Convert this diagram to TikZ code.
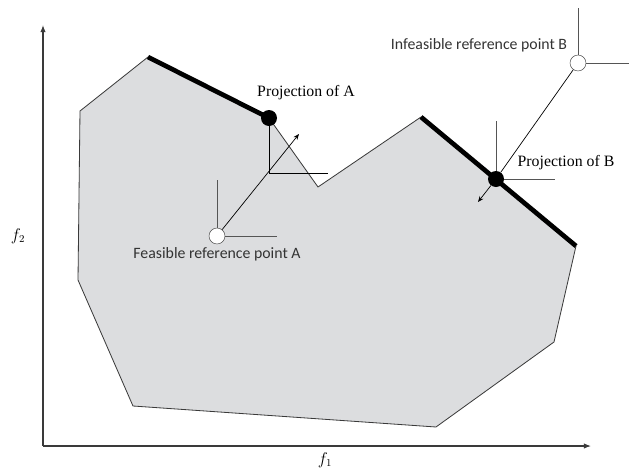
\documentclass[tikz,border=0pt]{standalone}
\usepackage{fontspec}
\setmainfont{Liberation Serif}
\newfontfamily\labelfont{Carlito}
\usetikzlibrary{arrows.meta}
\definecolor{region-gray}{HTML}{DCDDDF}
\definecolor{line-gray}{HTML}{3A3A3A}
\definecolor{cone-gray}{HTML}{555555}

\begin{document}
\begin{tikzpicture}[x=0.03cm, y=-0.03cm,
      every node/.style={font=\fontsize{13.5}{16}\selectfont}]
    \useasboundingbox (0,0) rectangle (630,469);
    % axes
    \coordinate (O) at (43,446);
    \coordinate (Ytip) at (43,25);
    \coordinate (Xtip) at (591,446);
    \draw[line-gray, line width=0.9pt, -{Latex[length=6pt, width=4.5pt]}] (O) -- (Ytip);
    \draw[line-gray, line width=0.9pt, -{Latex[length=6pt, width=4.5pt]}] (O) -- (Xtip);
    \node (f1) at (325,460) {$f_1$};
    \node (f2) at (18,236) {$f_2$};
    % feasible region
    \coordinate (v1) at (148,57);
    \coordinate (v2) at (269,118);
    \coordinate (v3) at (318,187);
    \coordinate (v4) at (421,117);
    \coordinate (v5) at (576,246);
    \coordinate (v6) at (554,342);
    \coordinate (v7) at (436,427);
    \coordinate (v8) at (133,406);
    \coordinate (v9) at (78,280);
    \coordinate (v10) at (80,111);
    \draw[line-gray, line width=0.7pt, fill=region-gray, line join=round]
          (v1) -- (v2) -- (v3) -- (v4) -- (v5) -- (v6) -- (v7) -- (v8)
          -- (v9) -- (v10) -- cycle;
    \draw[black, line width=4pt] (v1) -- (v2);
    \draw[black, line width=4pt] (v4) -- (v5);
    % reference point A and its projection
    \node[draw=line-gray, fill=white, circle, inner sep=0pt,
          minimum size=0.48cm] (A) at (217,236) {};
    \node[fill=black, circle, inner sep=0pt,
          minimum size=0.48cm] (PA) at (269,118) {};
    \coordinate (Aup) at (217,180);
    \coordinate (Aright) at (277,236);
    \coordinate (Acorner) at (269,173);
    \coordinate (Acright) at (328,173);
    \coordinate (Atip) at (299,134);
    \draw[cone-gray, line width=0.8pt] (A) -- (Aup);
    \draw[cone-gray, line width=0.8pt] (A) -- (Aright);
    \draw[black, line width=0.8pt] (PA) -- (Acorner) -- (Acright);
    \draw[black, line width=0.6pt, -{Stealth[length=5pt, width=4pt]}] (A) -- (Atip);
    \node (PAlabel) at (306,93) {Projection of A};
    \node[font=\labelfont\fontsize{13.5}{16}\selectfont, text=black!80]
          (Alabel) at (217,254) {Feasible reference point A};
    % reference point B and its projection
    \node[draw=line-gray, fill=white, circle, inner sep=0pt,
          minimum size=0.48cm] (B) at (578,63) {};
    \node[fill=black, circle, inner sep=0pt,
          minimum size=0.48cm] (PB) at (496,179) {};
    \coordinate (Bup) at (578,8);
    \coordinate (Bright) at (629,63);
    \coordinate (PBup) at (496,121);
    \coordinate (PBright) at (555,179);
    \coordinate (Btip) at (478,202);
    \draw[cone-gray, line width=0.8pt] (B) -- (Bup);
    \draw[cone-gray, line width=0.8pt] (B) -- (Bright);
    \draw[cone-gray, line width=0.8pt] (PB) -- (PBup);
    \draw[cone-gray, line width=0.8pt] (PB) -- (PBright);
    \draw[black, line width=0.6pt] (B) -- (PB);
    \draw[black, line width=0.6pt, -{Stealth[length=5pt, width=4pt]}] (PB) -- (Btip);
    \node (PBlabel) at (566,163) {Projection of B};
    \node[font=\labelfont\fontsize{13.5}{16}\selectfont, text=black!80]
          (Blabel) at (479,45) {Infeasible reference point B};
\end{tikzpicture}
\end{document}
